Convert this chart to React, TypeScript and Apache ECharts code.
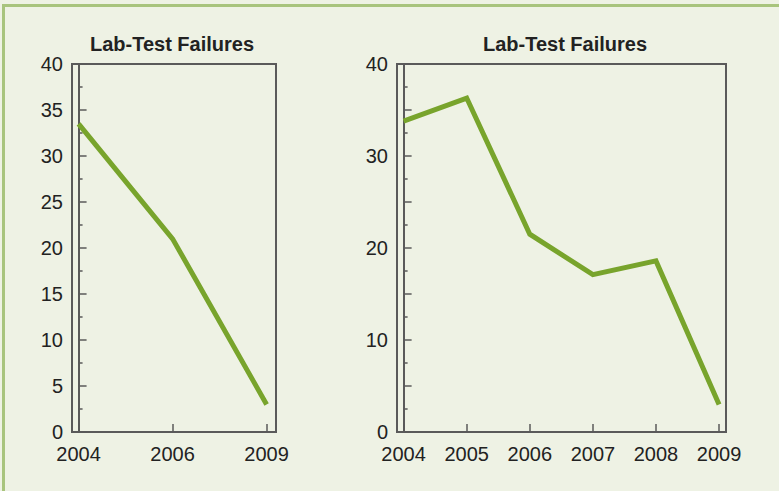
import React, { useEffect, useRef } from "react";
import * as echarts from "echarts";

const TITLE = "Lab-Test Failures";
const leftYears = ["2004", "2006", "2009"];
const leftValues = [33.5, 21.0, 3.0];
const rightYears = ["2004", "2005", "2006", "2007", "2008", "2009"];
const rightValues = [33.8, 36.3, 21.5, 17.1, 18.6, 3.0];

const FONT = "'Liberation Sans', Arial, Helvetica, sans-serif";
const TEXT = "#222222";
const AXIS = "#5a5a5a";
const LINE = "#78a42c";

export default function App() {
  const ref = useRef<HTMLDivElement>(null);
  useEffect(() => {
    if (!ref.current) return;
    const chart = echarts.init(ref.current, undefined, { renderer: "svg" });
    const xAxisFor = (cats: string[], min: number, max: number, gridIndex: number) => ({
      type: "value",
      gridIndex,
      min,
      max,
      axisLine: { show: true, onZero: false, lineStyle: { color: AXIS, width: 2 } },
      axisTick: {
        show: true,
        inside: true,
        length: 8,
        customValues: cats.map((_, i) => i),
        lineStyle: { color: AXIS, width: 1.5 },
      },
      axisLabel: {
        show: true,
        customValues: cats.map((_, i) => i),
        formatter: (v: number) => cats[Math.round(v)] ?? "",
        color: TEXT,
        fontSize: 20,
        fontFamily: FONT,
        margin: 12,
      },
      splitLine: { show: false },
    });
    const yAxisFor = (gridIndex: number, labelEvery: number) => ({
      type: "value",
      gridIndex,
      min: 0,
      max: 40,
      interval: 5,
      axisLine: { show: true, lineStyle: { color: AXIS, width: 2 } },
      axisTick: { show: true, inside: true, length: 8, lineStyle: { color: AXIS, width: 1.5 } },
      minorTick: { show: true, splitNumber: 2, length: 4, lineStyle: { color: AXIS, width: 1.5 } },
      axisLabel: {
        color: TEXT,
        fontSize: 20,
        fontFamily: FONT,
        margin: 9,
        formatter: (v: number) => (v % labelEvery === 0 ? String(v) : ""),
      },
      splitLine: { show: false },
      minorSplitLine: { show: false },
    });
    chart.setOption({
      animation: false,
      backgroundColor: "#eef2e4",
      graphic: [
        { type: "rect", shape: { x: 2, y: 4, width: 777, height: 3 }, style: { fill: "#a8c47d" } },
        { type: "rect", shape: { x: 2, y: 4, width: 3, height: 487 }, style: { fill: "#a8c47d" } },
      ],
      title: [
        {
          text: TITLE,
          left: 172,
          top: 34,
          padding: 0,
          textAlign: "center",
          textStyle: { fontFamily: FONT, fontWeight: "bold", fontSize: 20, color: TEXT },
        },
        {
          text: TITLE,
          left: 565,
          top: 34,
          padding: 0,
          textAlign: "center",
          textStyle: { fontFamily: FONT, fontWeight: "bold", fontSize: 20, color: TEXT },
        },
      ],
      grid: [
        { left: 72, top: 64, width: 204, height: 368, show: true, borderColor: AXIS, borderWidth: 2, backgroundColor: "transparent" },
        { left: 397, top: 64, width: 329, height: 368, show: true, borderColor: AXIS, borderWidth: 2, backgroundColor: "transparent" },
      ],
      xAxis: [xAxisFor(leftYears, -0.07, 2.1, 0), xAxisFor(rightYears, -0.105, 5.11, 1)],
      yAxis: [yAxisFor(0, 5), yAxisFor(1, 10)],
      series: [
        {
          type: "line",
          xAxisIndex: 0,
          yAxisIndex: 0,
          data: leftValues.map((v, i) => [i, v]),
          showSymbol: false,
          symbol: "none",
          lineStyle: { color: LINE, width: 5, join: "miter", cap: "butt" },
        },
        {
          type: "line",
          xAxisIndex: 1,
          yAxisIndex: 1,
          data: rightValues.map((v, i) => [i, v]),
          showSymbol: false,
          symbol: "none",
          lineStyle: { color: LINE, width: 5, join: "miter", cap: "butt" },
        },
      ],
    });
    return () => chart.dispose();
  }, []);
  return (
    <div
      ref={ref}
      style={{ position: "absolute", left: 0, top: 0, width: 779, height: 491 }}
    />
  );
}
